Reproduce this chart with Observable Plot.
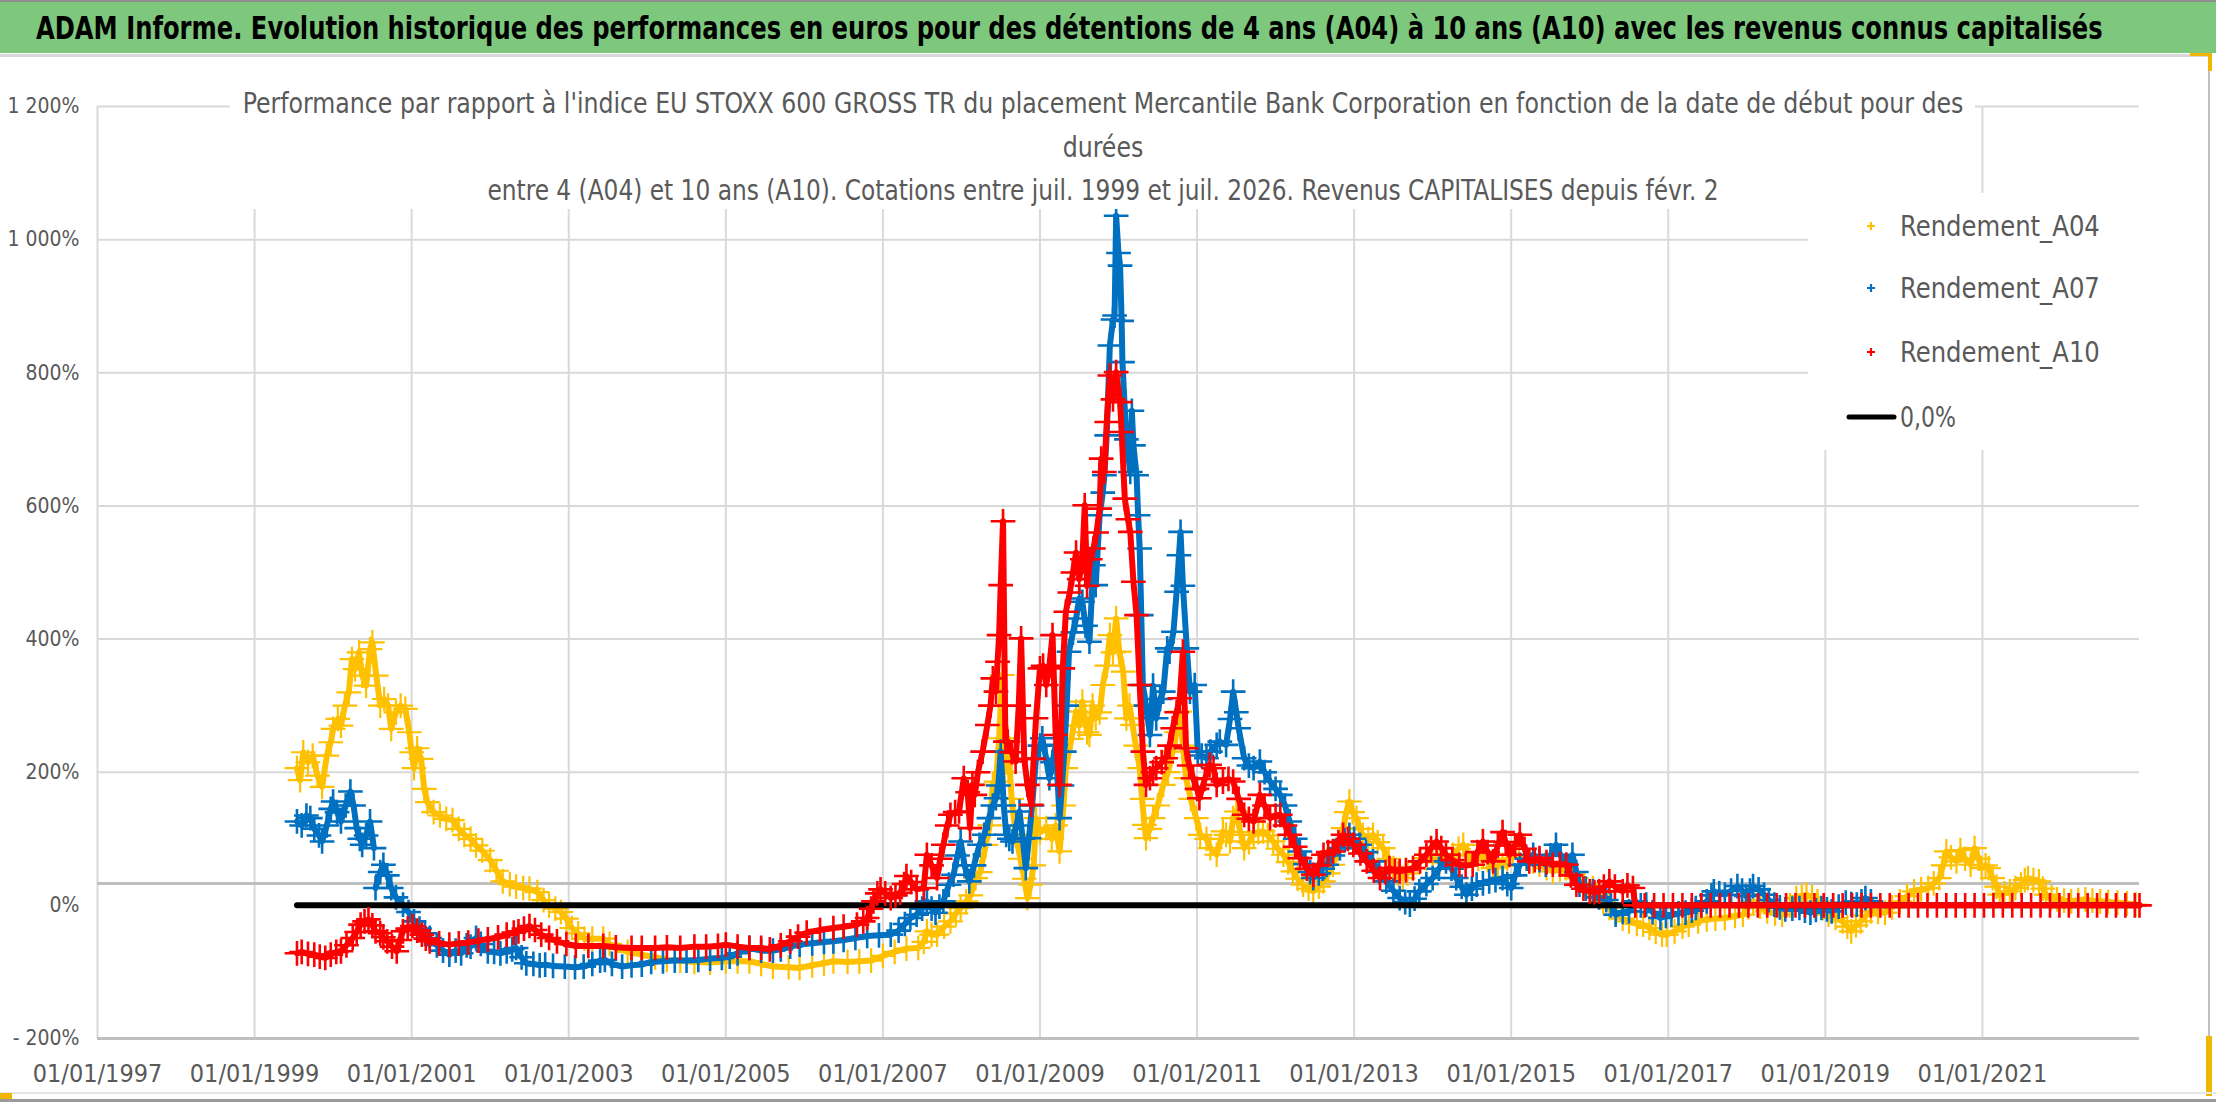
<!DOCTYPE html>
<html>
<head>
<meta charset="utf-8">
<script src="https://cdn.jsdelivr.net/npm/d3@7"></script>
<script src="https://cdn.jsdelivr.net/npm/@observablehq/plot@0.6"></script>
<style>
  html, body { margin: 0; padding: 0; background: #ffffff; overflow: hidden; }
  body { width: 2216px; height: 1102px; position: relative; font-family: "Liberation Sans Narrow", "DejaVu Sans Condensed", "Liberation Sans", sans-serif; }
  #titlebar { position: absolute; left: 0; top: 0; width: 2216px; height: 53px; background: #7ec87e; border-top: 2px solid #8f8f8f; box-sizing: border-box; }
  #chart { position: absolute; left: 0; top: 53px; }
  #subtitle { position: absolute; left: 230px; top: 76px; width: 1745px; height: 133px; background: #ffffff; }
  #legend { position: absolute; left: 1808px; top: 193px; width: 331px; height: 257px; background: #ffffff; }
  .deco { position: absolute; }
</style>
</head>
<body>
<div id="titlebar"></div>
<div id="chart"></div>
<div id="subtitle"></div>
<div id="legend"></div>
<div class="deco" style="left:0;top:54px;width:2210px;height:3px;background:#d9d9d9"></div>
<div class="deco" style="left:2208px;top:55px;width:2px;height:1040px;background:#bfbfbf"></div>
<div class="deco" style="left:2190px;top:53px;width:22px;height:3px;background:#f2b500"></div>
<div class="deco" style="left:2208px;top:53px;width:4px;height:18px;background:#f2b500"></div>
<div class="deco" style="left:2206px;top:1036px;width:6px;height:60px;background:#f2b500"></div>
<div class="deco" style="left:0;top:1092px;width:2216px;height:2px;background:#e6e6e6"></div>
<div class="deco" style="left:0;top:1099px;width:2216px;height:3px;background:#9a9a9a"></div>
<div class="deco" style="left:0;top:1093px;width:12px;height:6px;background:#f2b500"></div>
<script>
// ---------------- DATA ----------------
const titleText = "ADAM Informe. Evolution historique des performances en euros pour des détentions de 4 ans (A04) à 10 ans (A10) avec les revenus connus capitalisés";
const subtitleLines = [
  "Performance par rapport à l'indice EU STOXX 600 GROSS TR  du placement Mercantile Bank Corporation en fonction de la date de début pour des",
  "durées",
  "entre 4 (A04) et 10 ans (A10). Cotations entre juil. 1999 et juil. 2026. Revenus CAPITALISES depuis févr. 2"
];
const seriesNames = ["Rendement_A04", "Rendement_A07", "Rendement_A10", "0,0%"];
const seriesColors = ["#FFC000", "#0070C0", "#FF0000", "#000000"];
const xTicks = [1997, 1999, 2001, 2003, 2005, 2007, 2009, 2011, 2013, 2015, 2017, 2019, 2021];
const yTicks = [-200, 0, 200, 400, 600, 800, 1000, 1200];
const yGrid = [200, 400, 600, 800, 1000, 1200];
const axisCross = 33;

// [start year (decimal), performance %]
const A04 = [[1999.54,206],[1999.58,188],[1999.62,230],[1999.68,215],[1999.74,225],[1999.8,195],[1999.86,178],[1999.92,225],[1999.97,245],
[2000.0,265],[2000.06,280],[2000.1,270],[2000.15,300],[2000.2,320],[2000.24,370],[2000.28,355],[2000.33,380],[2000.37,345],[2000.42,330],[2000.47,385],[2000.5,395],[2000.55,345],[2000.6,300],[2000.65,310],[2000.7,300],[2000.74,265],[2000.8,290],[2000.86,300],[2000.92,295],[2000.97,260],
[2001.0,230],[2001.03,206],[2001.07,236],[2001.12,220],[2001.16,175],[2001.2,155],[2001.28,140],[2001.36,135],[2001.44,130],[2001.52,128],[2001.6,115],[2001.67,106],[2001.75,100],[2001.82,90],[2001.9,82],
[2002.0,68],[2002.08,52],[2002.16,36],[2002.25,32],[2002.33,28],[2002.42,26],[2002.5,25],[2002.6,20],[2002.68,8],[2002.75,0],[2002.83,-5],[2002.9,-10],[2002.97,-20],
[2003.04,-34],[2003.12,-42],[2003.2,-50],[2003.3,-50],[2003.44,-50],[2003.52,-58],[2003.6,-64],[2003.75,-70],[2003.93,-74],
[2004.1,-78],[2004.25,-82],[2004.42,-83],[2004.6,-85],[2004.8,-86],[2005.0,-84],[2005.15,-84],[2005.3,-84],[2005.45,-88],[2005.6,-92],[2005.8,-93],[2005.94,-94],
[2006.1,-90],[2006.25,-87],[2006.37,-84],[2006.55,-85],[2006.7,-84],[2006.85,-83],[2007.0,-76],[2007.15,-70],[2007.3,-65],[2007.45,-64],[2007.52,-55],[2007.56,-39],[2007.62,-44],[2007.69,-44],[2007.78,-32],[2007.86,-24],[2007.93,-12],[2007.99,-4],
[2008.06,6],[2008.12,15],[2008.18,41],[2008.24,50],[2008.31,91],[2008.36,120],[2008.4,181],[2008.44,186],[2008.48,251],[2008.52,346],[2008.55,200],[2008.59,251],[2008.64,160],[2008.69,106],[2008.75,70],[2008.8,40],[2008.84,11],[2008.88,31],[2008.92,60],[2008.95,131],
[2009.0,110],[2009.08,116],[2009.15,100],[2009.2,120],[2009.25,81],[2009.3,150],[2009.33,206],[2009.4,250],[2009.46,291],[2009.5,270],[2009.54,306],[2009.6,260],[2009.63,256],[2009.67,300],[2009.71,281],[2009.76,290],[2009.8,331],[2009.85,360],[2009.89,406],[2009.93,380],[2009.97,431],
[2010.01,381],[2010.06,351],[2010.1,281],[2010.14,300],[2010.18,271],[2010.22,240],[2010.27,206],[2010.3,160],[2010.33,121],[2010.35,101],[2010.4,115],[2010.44,131],[2010.5,150],[2010.57,181],[2010.63,200],[2010.69,231],[2010.74,260],[2010.78,291],[2010.82,240],[2010.86,191],[2010.92,160],[2010.99,131],
[2011.04,106],[2011.12,100],[2011.17,86],[2011.25,76],[2011.33,111],[2011.37,106],[2011.42,96],[2011.46,131],[2011.5,141],[2011.55,110],[2011.6,86],[2011.66,95],[2011.72,106],[2011.78,110],[2011.84,111],[2011.9,105],[2011.97,96],
[2012.03,85],[2012.1,76],[2012.16,65],[2012.22,51],[2012.28,40],[2012.35,31],[2012.42,25],[2012.48,21],[2012.55,28],[2012.61,36],[2012.67,48],[2012.73,61],[2012.8,85],[2012.86,116],[2012.9,140],[2012.94,156],[2012.98,140],
[2013.03,131],[2013.07,115],[2013.11,106],[2013.18,100],[2013.24,106],[2013.3,95],[2013.37,86],[2013.44,70],[2013.5,56],[2013.56,48],[2013.62,41],[2013.68,48],[2013.75,56],[2013.83,65],[2013.92,71],
[2014.0,68],[2014.09,66],[2014.17,72],[2014.26,76],[2014.33,85],[2014.39,91],[2014.45,75],[2014.51,61],[2014.58,70],[2014.64,76],[2014.7,68],[2014.77,56],[2014.83,58],[2014.89,61],[2014.95,70],
[2015.02,76],[2015.1,74],[2015.19,71],[2015.28,66],[2015.36,61],[2015.45,56],[2015.53,51],[2015.62,54],[2015.7,56],[2015.77,48],[2015.83,41],[2015.93,32],
[2016.04,26],[2016.1,15],[2016.17,6],[2016.25,-4],[2016.33,-14],[2016.42,-20],[2016.5,-24],[2016.6,-28],[2016.68,-29],[2016.76,-34],[2016.84,-40],[2016.92,-44],[2016.98,-44],
[2017.08,-39],[2017.18,-32],[2017.26,-29],[2017.38,-24],[2017.49,-21],[2017.6,-20],[2017.72,-19],[2017.85,-16],[2017.95,-14],
[2018.02,-3],[2018.08,6],[2018.17,-2],[2018.26,-9],[2018.36,-12],[2018.45,-14],[2018.55,0],[2018.63,11],[2018.7,14],[2018.76,16],[2018.83,12],[2018.9,6],[2018.97,-4],
[2019.04,-14],[2019.13,-19],[2019.22,-24],[2019.28,-32],[2019.33,-39],[2019.39,-30],[2019.45,-24],[2019.52,-15],[2019.58,-9],[2019.67,-10],[2019.76,-11],[2019.85,-3],[2019.95,6],
[2020.04,14],[2020.13,21],[2020.22,24],[2020.31,26],[2020.38,33],[2020.45,41],[2020.5,60],[2020.54,81],[2020.6,72],[2020.67,66],[2020.72,83],[2020.78,70],[2020.85,61],[2020.9,86],[2020.95,70],[2020.99,56],
[2021.04,60],[2021.08,56],[2021.13,41],[2021.18,28],[2021.22,16],[2021.28,18],[2021.35,21],[2021.42,26],[2021.49,31],[2021.54,38],[2021.58,41],[2021.65,38],[2021.72,36],[2021.77,25],[2021.81,16],[2021.88,12],[2021.95,9],
[2022.04,7],[2022.13,6],[2022.22,8],[2022.31,9],[2022.4,7],[2022.5,6],[2022.6,5],[2022.72,4],[2022.84,3],[2022.95,1]];

const A07 = [[1999.54,126],[1999.6,120],[1999.66,135],[1999.71,131],[1999.76,115],[1999.82,105],[1999.86,96],[1999.92,120],[1999.97,145],
[2000.0,156],[2000.05,140],[2000.1,126],[2000.16,150],[2000.22,171],[2000.26,150],[2000.3,116],[2000.34,100],[2000.37,91],[2000.42,105],[2000.47,126],[2000.52,86],[2000.53,NaN],
[2000.54,26],[2000.6,50],[2000.64,61],[2000.69,45],[2000.74,26],[2000.8,12],[2000.89,1],[2000.96,-10],
[2001.03,-24],[2001.1,-35],[2001.17,-42],[2001.23,-49],[2001.32,-60],[2001.4,-68],[2001.48,-74],[2001.56,-68],[2001.63,-72],[2001.7,-60],[2001.75,-62],[2001.82,-49],[2001.88,-58],[2001.97,-69],
[2002.05,-70],[2002.13,-72],[2002.21,-69],[2002.28,-66],[2002.33,-64],[2002.4,-78],[2002.46,-87],[2002.55,-88],[2002.63,-90],[2002.7,-89],[2002.8,-91],[2002.95,-92],
[2003.08,-93],[2003.19,-92],[2003.3,-88],[2003.4,-83],[2003.46,-82],[2003.55,-88],[2003.68,-92],[2003.8,-90],[2003.93,-89],
[2004.05,-85],[2004.2,-84],[2004.35,-83],[2004.5,-83],[2004.65,-82],[2004.8,-80],[2004.95,-79],
[2005.05,-77],[2005.15,-72],[2005.3,-64],[2005.45,-68],[2005.6,-68],[2005.7,-66],[2005.82,-62],[2005.94,-59],
[2006.1,-57],[2006.25,-55],[2006.37,-54],[2006.5,-52],[2006.65,-49],[2006.8,-46],[2006.95,-45],
[2007.1,-44],[2007.2,-38],[2007.28,-28],[2007.35,-19],[2007.43,-14],[2007.5,-5],[2007.56,6],[2007.62,-5],[2007.67,-11],[2007.72,-2],[2007.77,6],[2007.84,31],[2007.9,46],[2007.95,75],[2007.99,96],
[2008.04,60],[2008.1,36],[2008.16,60],[2008.23,91],[2008.29,106],[2008.35,131],[2008.4,150],[2008.44,161],[2008.47,180],[2008.5,231],[2008.54,150],[2008.57,106],[2008.61,100],[2008.65,96],[2008.7,120],[2008.74,141],[2008.78,100],[2008.82,56],[2008.86,101],[2008.9,150],[2008.95,221],
[2009.0,240],[2009.03,251],[2009.08,220],[2009.12,191],[2009.16,215],[2009.2,241],[2009.25,131],[2009.28,180],[2009.31,231],[2009.34,300],[2009.37,381],[2009.42,410],[2009.46,431],[2009.5,461],[2009.54,456],[2009.58,420],[2009.63,396],[2009.68,511],[2009.71,481],[2009.76,586],[2009.8,620],[2009.82,646],[2009.85,706],[2009.89,841],[2009.93,880],[2009.95,886],[2009.97,1036],
[2010.0,980],[2010.02,961],[2010.04,878],[2010.05,816],[2010.1,700],[2010.15,651],[2010.17,743],[2010.19,691],[2010.23,646],[2010.25,586],[2010.27,536],[2010.29,436],[2010.31,331],[2010.35,300],[2010.4,256],[2010.44,330],[2010.48,281],[2010.53,310],[2010.57,321],[2010.62,386],[2010.65,381],[2010.7,411],[2010.74,471],[2010.77,526],[2010.79,561],[2010.82,480],[2010.87,386],[2010.91,321],[2010.97,331],
[2011.01,231],[2011.06,225],[2011.12,221],[2011.17,231],[2011.25,241],[2011.29,246],[2011.37,241],[2011.42,280],[2011.46,321],[2011.5,290],[2011.53,266],[2011.6,221],[2011.66,210],[2011.72,206],[2011.8,216],[2011.86,200],[2011.93,186],
[2012.0,175],[2012.06,166],[2012.12,150],[2012.18,126],[2012.25,100],[2012.31,81],[2012.38,62],[2012.44,50],[2012.48,41],[2012.55,48],[2012.6,55],[2012.65,61],[2012.73,75],[2012.82,86],[2012.88,98],[2012.94,106],
[2013.0,100],[2013.07,91],[2013.15,80],[2013.24,66],[2013.32,50],[2013.41,36],[2013.5,22],[2013.58,11],[2013.65,5],[2013.71,1],[2013.77,10],[2013.83,21],[2013.92,32],
[2014.0,41],[2014.08,55],[2014.17,66],[2014.24,55],[2014.3,41],[2014.37,28],[2014.43,16],[2014.5,25],[2014.56,31],[2014.64,33],[2014.72,36],[2014.8,38],[2014.89,41],[2014.95,32],
[2015.0,26],[2015.05,45],[2015.11,61],[2015.2,70],[2015.28,76],[2015.36,68],[2015.44,61],[2015.5,75],[2015.57,91],[2015.63,75],[2015.7,61],[2015.78,76],[2015.83,50],[2015.87,31],[2015.95,25],
[2016.04,21],[2016.12,12],[2016.21,8],[2016.27,0],[2016.33,-14],[2016.42,-10],[2016.5,-9],[2016.58,6],[2016.65,0],[2016.72,1],[2016.8,-10],[2016.9,-19],[2016.97,-16],
[2017.04,-14],[2017.13,-12],[2017.22,-11],[2017.3,-8],[2017.35,-4],[2017.42,0],[2017.49,6],[2017.55,15],[2017.58,21],[2017.65,18],[2017.72,16],[2017.8,22],[2017.88,29],[2017.94,22],[2017.99,14],
[2018.04,22],[2018.08,29],[2018.15,24],[2018.22,16],[2018.28,8],[2018.35,1],[2018.42,-3],[2018.49,-6],[2018.58,-5],[2018.67,-4],[2018.74,-8],[2018.81,-11],[2018.88,-7],[2018.95,-4],
[2019.02,-6],[2019.08,-9],[2019.17,-2],[2019.26,4],[2019.33,2],[2019.4,1],[2019.46,6],[2019.51,11],[2019.58,6]];

const A10 = [[1999.54,-72],[1999.6,-70],[1999.68,-73],[1999.76,-74],[1999.83,-77],[1999.9,-79],[1999.97,-74],
[2000.04,-70],[2000.1,-69],[2000.17,-60],[2000.25,-49],[2000.3,-40],[2000.35,-29],[2000.4,-24],[2000.45,-21],[2000.5,-30],[2000.54,-39],[2000.6,-42],[2000.64,-48],[2000.69,-54],[2000.75,-62],[2000.81,-69],[2000.85,-52],[2000.89,-39],[2000.95,-35],
[2001.01,-31],[2001.07,-38],[2001.13,-44],[2001.18,-50],[2001.23,-54],[2001.35,-57],[2001.48,-59],[2001.6,-57],[2001.72,-56],[2001.85,-53],[2001.97,-51],
[2002.1,-48],[2002.21,-44],[2002.3,-41],[2002.36,-39],[2002.43,-35],[2002.5,-31],[2002.57,-37],[2002.65,-44],[2002.75,-49],[2002.85,-54],[2002.97,-58],
[2003.09,-61],[2003.25,-61],[2003.44,-61],[2003.6,-63],[2003.8,-64],[2003.93,-64],[2004.1,-64],[2004.25,-63],[2004.42,-64],[2004.6,-62],[2004.75,-62],[2004.9,-61],
[2005.0,-59],[2005.15,-62],[2005.3,-64],[2005.45,-64],[2005.56,-66],[2005.7,-60],[2005.82,-54],[2005.92,-47],
[2006.03,-41],[2006.2,-37],[2006.37,-34],[2006.5,-32],[2006.67,-29],[2006.75,-24],[2006.8,-19],[2006.85,-5],[2006.88,6],[2006.93,18],[2006.97,24],
[2007.03,18],[2007.1,11],[2007.16,15],[2007.22,19],[2007.27,32],[2007.3,44],[2007.36,35],[2007.43,24],[2007.52,26],[2007.56,76],[2007.62,60],[2007.69,41],[2007.73,70],[2007.77,91],[2007.82,120],[2007.86,136],[2007.92,140],[2007.97,141],
[2008.03,191],[2008.08,170],[2008.11,116],[2008.14,181],[2008.17,166],[2008.21,200],[2008.27,231],[2008.33,271],[2008.37,300],[2008.4,341],[2008.44,321],[2008.46,366],[2008.48,406],[2008.5,481],[2008.53,577],[2008.56,246],[2008.59,246],[2008.64,230],[2008.69,216],[2008.73,300],[2008.76,401],[2008.8,220],[2008.84,181],[2008.89,151],[2008.92,220],[2008.95,281],
[2009.0,356],[2009.04,360],[2009.08,331],[2009.12,360],[2009.16,406],[2009.2,256],[2009.25,181],[2009.29,356],[2009.33,441],[2009.38,470],[2009.42,500],[2009.46,530],[2009.5,490],[2009.54,520],[2009.57,601],[2009.6,480],[2009.64,520],[2009.68,536],[2009.72,560],[2009.76,596],[2009.78,671],[2009.82,651],[2009.85,726],[2009.89,796],[2009.93,760],[2009.97,801],
[2010.02,756],[2010.04,711],[2010.08,611],[2010.12,580],[2010.15,561],[2010.19,486],[2010.23,436],[2010.27,331],[2010.31,231],[2010.35,181],[2010.4,191],[2010.44,200],[2010.48,206],[2010.55,215],[2010.6,221],[2010.65,240],[2010.69,266],[2010.74,290],[2010.78,311],[2010.82,381],[2010.86,236],[2010.9,210],[2010.95,191],
[2011.0,175],[2011.03,161],[2011.1,190],[2011.16,211],[2011.21,206],[2011.25,181],[2011.33,186],[2011.4,190],[2011.46,186],[2011.53,160],[2011.6,136],[2011.66,130],[2011.72,126],[2011.8,166],[2011.86,150],[2011.93,131],
[2012.0,135],[2012.06,136],[2012.12,120],[2012.18,106],[2012.25,88],[2012.31,71],[2012.4,55],[2012.48,46],[2012.55,60],[2012.61,76],[2012.67,80],[2012.73,81],[2012.8,95],[2012.86,106],[2012.92,100],[2012.99,91],
[2013.08,78],[2013.16,66],[2013.25,52],[2013.33,41],[2013.4,50],[2013.45,56],[2013.52,52],[2013.58,51],[2013.66,53],[2013.75,56],[2013.84,66],[2013.92,76],[2013.98,86],
[2014.05,96],[2014.11,86],[2014.17,76],[2014.25,68],[2014.34,61],[2014.42,60],[2014.51,61],[2014.57,80],[2014.64,96],[2014.7,80],[2014.77,66],[2014.83,90],[2014.89,110],[2014.93,95],[2014.98,76],
[2015.05,90],[2015.11,106],[2015.17,85],[2015.23,66],[2015.3,68],[2015.36,71],[2015.45,65],[2015.53,61],[2015.62,62],[2015.7,61],[2015.76,45],[2015.83,31],[2015.92,25],
[2016.0,21],[2016.06,20],[2016.12,21],[2016.18,28],[2016.25,36],[2016.32,28],[2016.42,21],[2016.48,30],[2016.55,26],
[2016.58,0],[2016.7,0],[2016.82,0],[2016.94,0],[2017.06,0],[2017.18,0],[2017.3,0],[2017.42,0],[2017.54,0],[2017.66,0],[2017.78,0],[2017.9,0],
[2018.02,0],[2018.14,0],[2018.26,0],[2018.38,0],[2018.5,0],[2018.62,0],[2018.74,0],[2018.86,0],[2018.98,0],
[2019.1,0],[2019.22,0],[2019.34,0],[2019.46,0],[2019.58,0],[2019.7,0],[2019.82,0],[2019.94,0],
[2020.06,0],[2020.18,0],[2020.3,0],[2020.42,0],[2020.54,0],[2020.66,0],[2020.78,0],[2020.9,0],
[2021.02,0],[2021.14,0],[2021.26,0],[2021.38,0],[2021.5,0],[2021.62,0],[2021.74,0],[2021.86,0],[2021.98,0],
[2022.1,0],[2022.22,0],[2022.34,0],[2022.46,0],[2022.58,0],[2022.7,0],[2022.82,0],[2022.94,0],[2023.0,0]];

const zeroLine = [[1999.54,0],[2023.0,0]];

// ---------------- CHART ----------------
const FONT = '"Liberation Sans Narrow", "DejaVu Sans Condensed", "Liberation Sans", sans-serif';
const fmtPct = d => d === 0 ? "0%" : (d < 0 ? "- " : "") + d3.format(",")(Math.abs(d)).replace(/,/g, " ") + "%";
const X = d => d[0], Y = d => d[1];

function seriesMarks(data, color, sw) {
  return [
    Plot.line(data, {x: X, y: Y, stroke: color, strokeWidth: 6, strokeLinejoin: "round", strokeLinecap: "round"}),
    Plot.dot(data, {x: X, y: Y, symbol: "plus", r: 8, stroke: color, strokeWidth: sw})
  ];
}

const chart = Plot.plot({
  width: 2216,
  height: 1049,
  marginTop: 53,
  marginBottom: 64,
  marginLeft: 97,
  marginRight: 77,
  style: {fontFamily: FONT, color: "#595959", background: "transparent"},
  x: {domain: [1997, 2023]},
  y: {domain: [-200, 1200]},
  marks: [
    Plot.ruleX(xTicks, {stroke: "#d9d9d9", strokeWidth: 2}),
    Plot.ruleY(yGrid, {stroke: "#d9d9d9", strokeWidth: 2}),
    Plot.ruleY([axisCross, -200], {stroke: "#bfbfbf", strokeWidth: 3}),
    Plot.axisX({ticks: xTicks, tickFormat: d => "01/01/" + d, tickSize: 0, tickPadding: 26, fontSize: 25, label: null, fill: "#595959"}),
    Plot.axisY({ticks: yTicks, tickFormat: fmtPct, tickSize: 0, tickPadding: 18, fontSize: 21, label: null, fill: "#595959"}),
    ...seriesMarks(A04, seriesColors[0], 2.2),
    ...seriesMarks(A07, seriesColors[1], 2.6),
    Plot.line(zeroLine, {x: X, y: Y, stroke: seriesColors[3], strokeWidth: 6, strokeLinecap: "round"}),
    ...seriesMarks(A10, seriesColors[2], 2.6)
  ]
});
document.getElementById("chart").appendChild(chart);

// Fit a text to a target width by font size, then stretch it vertically about its baseline
function fitText(sel, baseSize, target, capTarget, capRatio) {
  sel.attr("font-size", baseSize);
  const nat = sel.node().getComputedTextLength();
  const fs = baseSize * target / nat;
  sel.attr("font-size", fs);
  const y = +sel.attr("y");
  const sy = Math.max(1, capTarget / (fs * capRatio));
  sel.attr("transform", `translate(0,${y}) scale(1,${sy}) translate(0,${-y})`);
  return fs;
}

// ---------------- TITLE ----------------
const tsvg = d3.select("#titlebar").append("svg").attr("width", 2216).attr("height", 51)
  .style("position", "absolute").style("left", "0").style("top", "0");
const tTitle = tsvg.append("text").attr("x", 36).attr("y", 37)
  .attr("font-family", FONT).attr("font-weight", "bold").attr("fill", "#000")
  .text(titleText);
fitText(tTitle, 33, 2068, 23, 0.73);

// ---------------- SUBTITLE ----------------
const ssvg = d3.select("#subtitle").append("svg").attr("width", 1745).attr("height", 133);
const subBase = [37, 81, 124];
const subCenter = 873;
const subLen = [1722, null, 1232];
let subFs = 30;
subtitleLines.forEach((t, i) => {
  const el = ssvg.append("text").attr("y", subBase[i]).attr("x", subCenter).attr("text-anchor", "middle")
    .attr("font-family", FONT).attr("fill", "#595959").text(t);
  if (subLen[i] != null) subFs = fitText(el, 30, subLen[i], 21, 0.73);
  else {
    el.attr("font-size", subFs);
    const y = subBase[i], sy = Math.max(1, 21 / (subFs * 0.73));
    el.attr("transform", `translate(0,${y}) scale(1,${sy}) translate(0,${-y})`);
  }
});

// ---------------- LEGEND ----------------
const lsvg = d3.select("#legend").append("svg").attr("width", 331).attr("height", 257);
const rowY = [33, 95, 159, 224];
seriesNames.forEach((name, i) => {
  const y = rowY[i];
  if (i < 3) {
    lsvg.append("path").attr("d", `M${63 - 4},${y}h8M${63},${y - 4}v8`)
      .attr("stroke", seriesColors[i]).attr("stroke-width", 2.2).attr("fill", "none");
  } else {
    lsvg.append("line").attr("x1", 41).attr("x2", 86).attr("y1", y).attr("y2", y)
      .attr("stroke", seriesColors[i]).attr("stroke-width", 5).attr("stroke-linecap", "round");
  }
  const t = lsvg.append("text").attr("x", 92).attr("y", y + 10)
    .attr("font-family", FONT).attr("fill", "#595959").text(name);
  fitText(t, 30, i < 3 ? 200 : 56, 21, 0.73);
});
</script>
</body>
</html>
